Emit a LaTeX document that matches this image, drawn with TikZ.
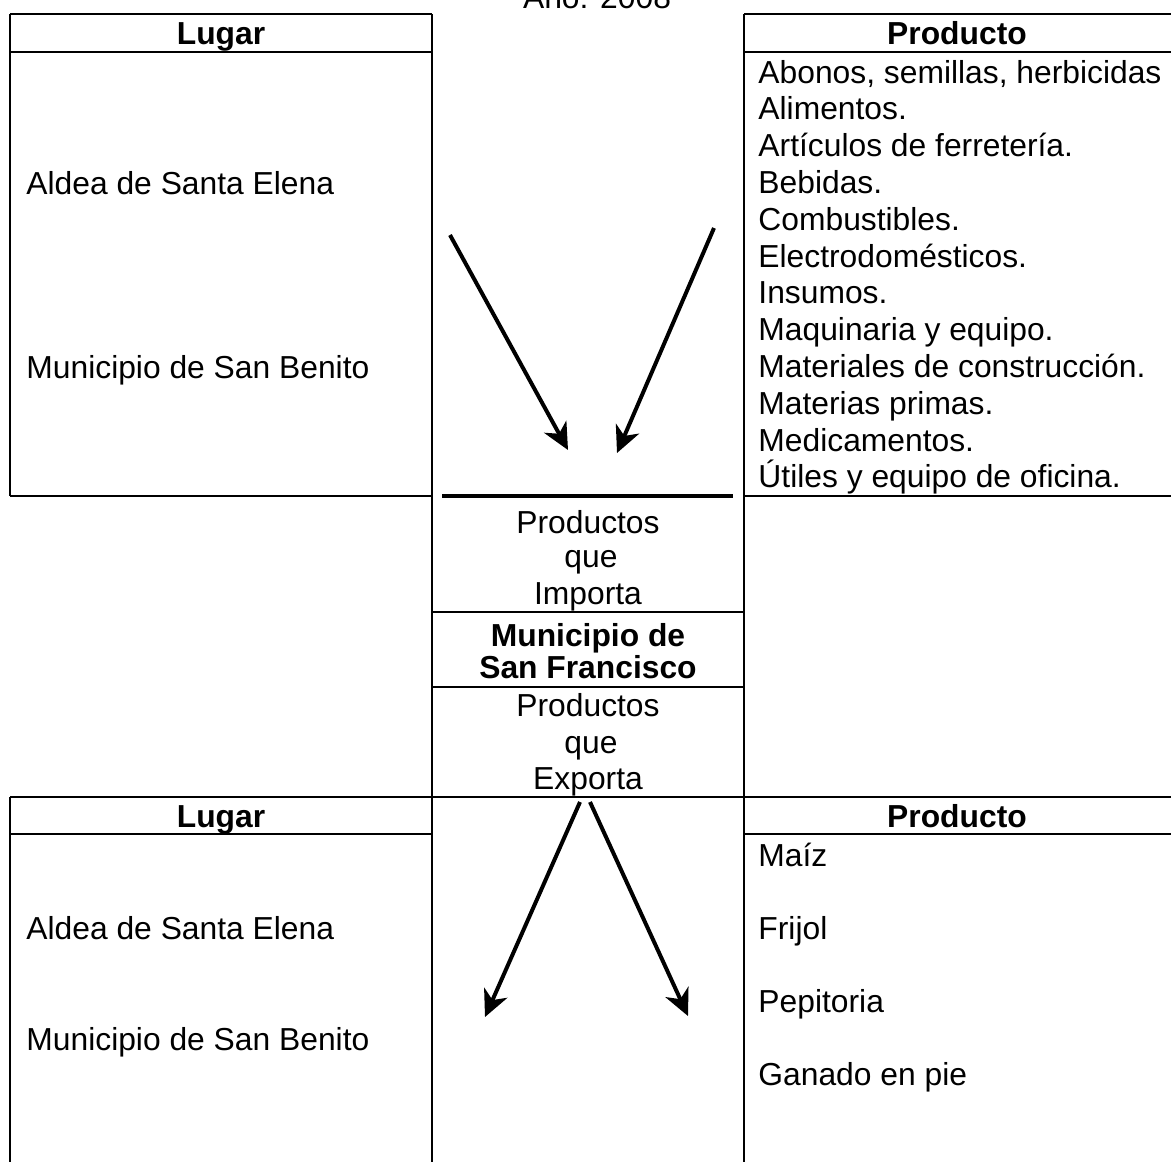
\documentclass[tikz,border=0pt]{standalone}
\usepackage{fontspec}
\setmainfont{Liberation Sans}
\usetikzlibrary{arrows.meta}

\begin{document}
\begin{tikzpicture}[x=0.3774pt, y=-0.3774pt, line width=1.1pt,
  texto/.style={anchor=base west, inner sep=0pt, font=\fontsize{12}{13.8}\selectfont},
  centro/.style={anchor=base, inner sep=0pt, font=\fontsize{12}{13.8}\selectfont},
  titulo/.style={anchor=base, inner sep=0pt, font=\fontsize{12}{13.8}\selectfont\bfseries},
  flecha/.style={line width=1.5pt, -{Stealth[length=10pt, width=9.5pt, inset=3pt]}}]
\useasboundingbox (0,0) rectangle (1171,1162);
\node[centro] (anio) at (597,8) {Año: 2008};
\draw (10,14) -- (432,14) (744,14) -- (1171,14);
\draw (10,52) -- (432,52) (744,52) -- (1171,52);
\draw (10,496) -- (432,496) (744,496) -- (1171,496);
\draw[line width=1.5pt] (442,496) -- (733,496);
\draw (432,612) -- (744,612) (432,687) -- (744,687);
\draw (10,797) -- (1171,797);
\draw (10,834) -- (432,834) (744,834) -- (1171,834);
\draw (10,14) -- (10,496) (10,797) -- (10,1162);
\draw (432,14) -- (432,1162) (744,14) -- (744,1162);
\node[titulo] (lugar1) at (221,44) {Lugar};
\node[titulo] (prod1) at (957,44) {Producto};
\node[texto] (aldea1) at (25,194) {Aldea de Santa Elena};
\node[texto] (benito1) at (25,378) {Municipio de San Benito};
\foreach \t [count=\i from 0] in {{Abonos, semillas, herbicidas}, Alimentos., Artículos de ferretería., Bebidas., Combustibles., Electrodomésticos., Insumos., Maquinaria y equipo., Materiales de construcción., Materias primas., Medicamentos., Útiles y equipo de oficina.}
  \node[texto] (imp\i) at (757,{83+36.8*\i}) {\t};
\node[centro] (pi1) at (588,533) {Productos};
\node[centro] (pi2) at (591,567) {que};
\node[centro] (pi3) at (588,604) {Importa};
\node[titulo] (muni1) at (588,646) {Municipio de};
\node[titulo] (muni2) at (588,678) {San Francisco};
\node[centro] (pe1) at (588,716) {Productos};
\node[centro] (pe2) at (591,753) {que};
\node[centro] (pe3) at (588,789) {Exporta};
\node[titulo] (lugar2) at (221,827) {Lugar};
\node[titulo] (prod2) at (957,827) {Producto};
\node[texto] (aldea2) at (25,939) {Aldea de Santa Elena};
\node[texto] (benito2) at (25,1050) {Municipio de San Benito};
\foreach \t [count=\i from 0] in {Maíz, Frijol, Pepitoria, Ganado en pie}
  \node[texto] (exp\i) at (757,{866+73.3*\i}) {\t};
\coordinate (a1) at (450,235); \coordinate (b1) at (568,450);
\coordinate (a2) at (714,228); \coordinate (b2) at (617,453);
\coordinate (a3) at (580,802); \coordinate (b3) at (485,1017);
\coordinate (a4) at (590,802); \coordinate (b4) at (688,1016);
\draw[flecha] (a1) -- (b1);
\draw[flecha] (a2) -- (b2);
\draw[flecha] (a3) -- (b3);
\draw[flecha] (a4) -- (b4);
\end{tikzpicture}
\end{document}
